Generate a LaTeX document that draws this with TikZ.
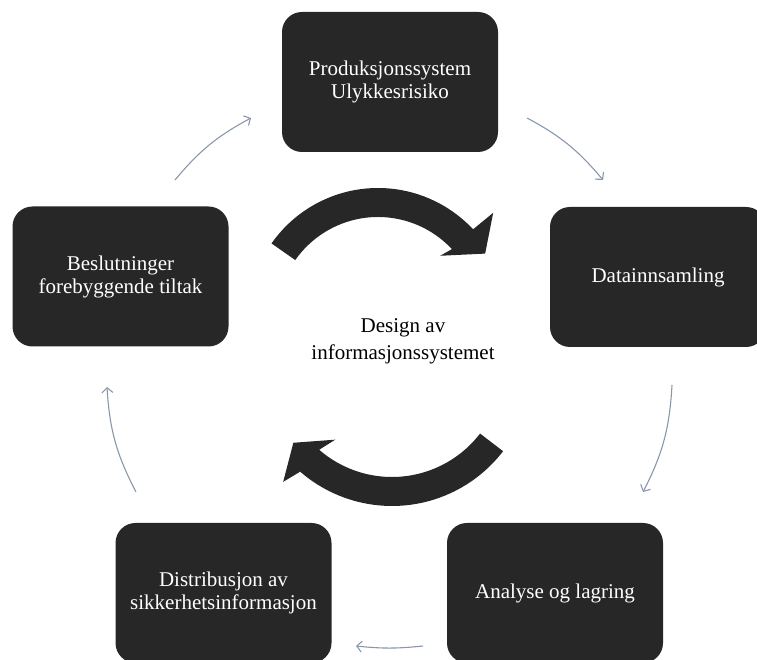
\documentclass[tikz,border=0pt]{standalone}
\usepackage{fontspec}
\setmainfont{Liberation Serif}
\usetikzlibrary{arrows.meta}
\definecolor{boxfill}{HTML}{272727}
\definecolor{conn}{HTML}{8A97AB}
\begin{document}
\begin{tikzpicture}[x=1pt,y=1pt,
  stage/.style={fill=boxfill, rounded corners=20pt, minimum width=216pt, minimum height=140pt,
    text=white, font=\fontsize{21}{23}\selectfont, align=center, inner sep=0pt},
  link/.style={draw=conn, line width=1.1pt, -{Straight Barb[length=5pt,width=11pt]}},
  bigarrow/.style={fill=boxfill}]
\useasboundingbox (0,0) rectangle (757,660);
\clip (0,0) rectangle (757,660);
% stages
\node[stage] (prod) at (390,578) {Produksjonssystem\\Ulykkesrisiko};
\node[stage] (data) at (658,383) {Datainnsamling};
\node[stage] (anal) at (555,67) {Analyse og lagring};
\node[stage] (dist) at (223.5,67) {Distribusjon av\\sikkerhetsinformasjon};
\node[stage] (besl) at (120.5,383.5) {Beslutninger\\forebyggende tiltak};
% centre text
\node[font=\fontsize{21}{27}\selectfont, align=center] (design) at (403,319) {Design av\\informasjonssystemet};
% connector end points
\coordinate (a1) at (527,542); \coordinate (b1) at (603,480);
\coordinate (a2) at (672,275); \coordinate (b2) at (643,168);
\coordinate (a3) at (423,14);  \coordinate (b3) at (356,14);
\coordinate (a4) at (136,168); \coordinate (b4) at (107,273);
\coordinate (a5) at (175,480); \coordinate (b5) at (251,542);
\draw[link] (a1) to[bend left=11] (b1);
\draw[link] (a2) to[bend left=12] (b2);
\draw[link] (a3) to[bend left=6] (b3);
\draw[link] (a4) to[bend left=12] (b4);
\draw[link] (a5) to[bend left=11] (b5);
% big circular arrows
\fill[bigarrow, shift={(378,342)}]
  (145:130) arc[start angle=145, end angle=43, radius=130]
  -- (42.4:156) -- (31:125) -- (45:88) -- (43:101)
  arc[start angle=43, end angle=145, radius=101] -- cycle;
\fill[bigarrow, shift={(392,294)}]
  (-37.5:140) arc[start angle=-37.5, end angle=-131, radius=140]
  -- (-133.2:159) -- (-142.1:125) -- (-127.6:93) -- (-131:111)
  arc[start angle=-131, end angle=-37.5, radius=111] -- cycle;
\end{tikzpicture}
\end{document}
